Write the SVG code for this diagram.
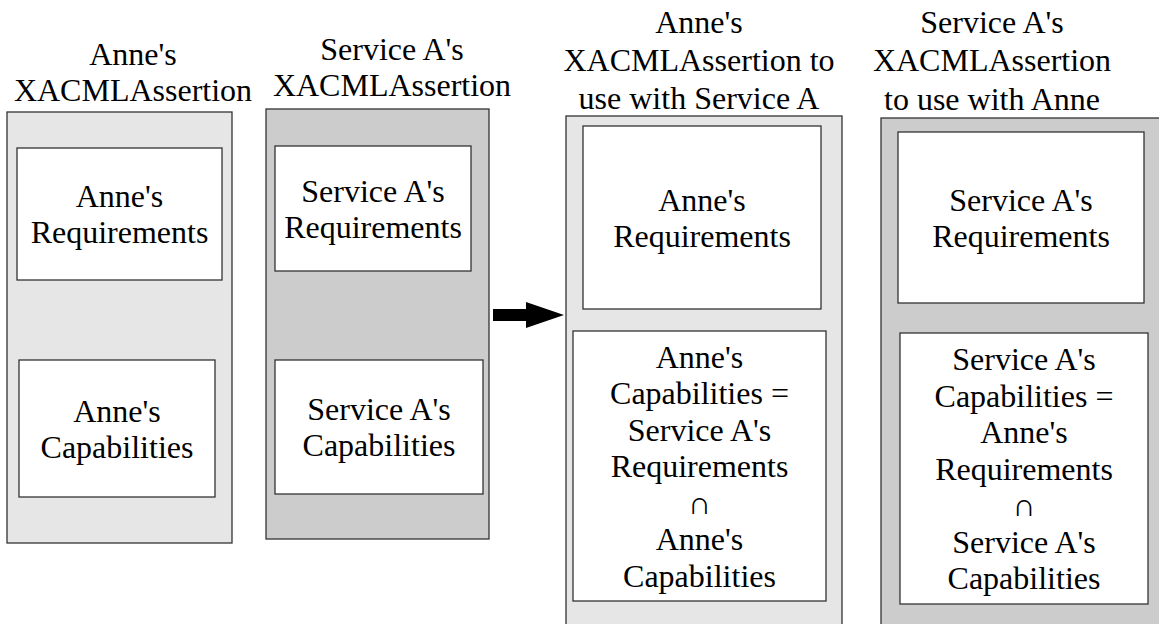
<svg xmlns="http://www.w3.org/2000/svg" width="1159" height="624" viewBox="0 0 1159 624">
<style>
text{font-size:32px;fill:#000;text-anchor:middle}
.light{fill:#e6e6e6;stroke:#333;stroke-width:1.3}
.dark{fill:#cccccc;stroke:#333;stroke-width:1.3}
.box{fill:#fff;stroke:#333;stroke-width:1.3}
</style>
<rect width="1159" height="624" fill="#fff"/>
<g id="anne-assertion">
<text x="133" y="65" font-family="serif">Anne's</text>
<text x="133" y="101" font-family="serif">XACMLAssertion</text>
<rect class="light" x="7" y="112" width="225" height="431"/>
<g id="anne-req"><rect class="box" x="17" y="148" width="205" height="132"/>
<text x="119.5" y="207" font-family="serif">Anne's</text><text x="119.5" y="243" font-family="serif">Requirements</text></g>
<g id="anne-cap"><rect class="box" x="19" y="360" width="196" height="137"/>
<text x="117" y="422" font-family="serif">Anne's</text><text x="117" y="458" font-family="serif">Capabilities</text></g>
</g>
<g id="service-assertion">
<text x="392" y="60" font-family="serif">Service A's</text>
<text x="392" y="96" font-family="serif">XACMLAssertion</text>
<rect class="dark" x="266" y="109" width="223" height="430"/>
<g id="service-req"><rect class="box" x="275" y="146" width="196" height="125"/>
<text x="373" y="201.5" font-family="serif">Service A's</text><text x="373" y="237.5" font-family="serif">Requirements</text></g>
<g id="service-cap"><rect class="box" x="275" y="360" width="208" height="134"/>
<text x="379" y="420" font-family="serif">Service A's</text><text x="379" y="456" font-family="serif">Capabilities</text></g>
</g>
<g id="connectors">
<path d="M493,309 H526 V302 L564,315 L526,328 V321 H493 Z" fill="#000"/>
</g>
<g id="anne-for-service">
<text x="699" y="33" font-family="serif">Anne's</text>
<text x="699" y="71" font-family="serif">XACMLAssertion to</text>
<text x="699" y="109" font-family="serif">use with Service A</text>
<rect class="light" x="566" y="116" width="276" height="520"/>
<g id="anne-req2"><rect class="box" x="583" y="126" width="238" height="183"/>
<text x="702" y="210.5" font-family="serif">Anne's</text><text x="702" y="246.5" font-family="serif">Requirements</text></g>
<g id="anne-cap2"><rect class="box" x="573" y="331" width="253" height="270"/>
<text x="699.5" y="367.5" font-family="serif">Anne's</text>
<text x="699.5" y="404" font-family="serif">Capabilities =</text>
<text x="699.5" y="440.5" font-family="serif">Service A's</text>
<text x="699.5" y="477" font-family="serif">Requirements</text>
<text x="699.5" y="513.5" font-family="serif">∩</text>
<text x="699.5" y="550" font-family="serif">Anne's</text>
<text x="699.5" y="586.5" font-family="serif">Capabilities</text></g>
</g>
<g id="service-for-anne">
<text x="992" y="33" font-family="serif">Service A's</text>
<text x="992" y="71" font-family="serif">XACMLAssertion</text>
<text x="992" y="110" font-family="serif">to use with Anne</text>
<rect class="dark" x="881" y="118" width="290" height="520"/>
<g id="service-req2"><rect class="box" x="898" y="132" width="246" height="171"/>
<text x="1021" y="210.5" font-family="serif">Service A's</text><text x="1021" y="246.5" font-family="serif">Requirements</text></g>
<g id="service-cap2"><rect class="box" x="900" y="333" width="248" height="271"/>
<text x="1024" y="370" font-family="serif">Service A's</text>
<text x="1024" y="406.5" font-family="serif">Capabilities =</text>
<text x="1024" y="443" font-family="serif">Anne's</text>
<text x="1024" y="479.5" font-family="serif">Requirements</text>
<text x="1024" y="516" font-family="serif">∩</text>
<text x="1024" y="552.5" font-family="serif">Service A's</text>
<text x="1024" y="589" font-family="serif">Capabilities</text></g>
</g>
</svg>
